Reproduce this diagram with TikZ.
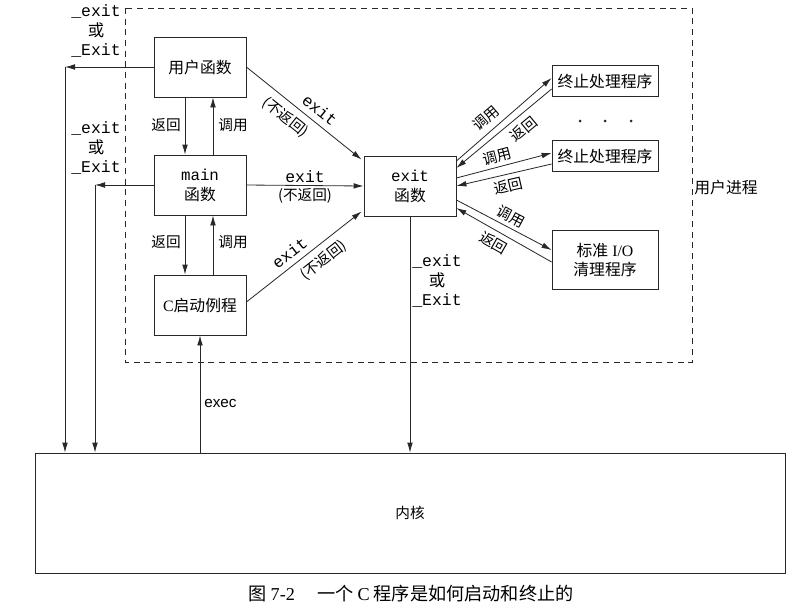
\documentclass[tikz,border=0pt]{standalone}
\usepackage{fontspec}
\setmainfont{Liberation Serif}
\setsansfont{Liberation Sans}
\setmonofont{Liberation Mono}
\newfontfamily\cjk{Noto Sans CJK SC}
\usetikzlibrary{arrows.meta,positioning,calc}
\definecolor{inkgray}{RGB}{40,40,40}

\begin{document}
\begin{tikzpicture}[
    x=0.3mm, y=0.3mm,
    line width=0.7pt, draw=inkgray,
    box/.style={draw, minimum width=27.6mm, minimum height=18mm, font=\cjk\fontsize{13.5}{17}\selectfont, align=center, inner sep=1pt},
    handler/.style={draw, minimum width=31.8mm, minimum height=9.3mm, font=\cjk\fontsize{13.5}{17}\selectfont, align=center, inner sep=1pt},
    lbl/.style={font=\cjk\fontsize{12.5}{15}\selectfont, inner sep=2pt},
    code/.style={font=\ttfamily\fontsize{14}{16.5}\selectfont, inner sep=2pt},
    region/.style={draw, dash pattern=on 1.8mm off 1.4mm},
    arrow/.style={-{Latex[length=3mm,width=1.7mm]}},
]
    \useasboundingbox (0,0) rectangle (812,-612);

    % user process
    \draw[region] (125,-8) rectangle (692,-362);
    \node[font=\cjk\fontsize{13.5}{17}\selectfont] (uproc) at (726,-187) {用户进程};

    \node[box] (user) at (200,-67) {用户函数};
    \node[box] (mainf) at (200,-185) {{\ttfamily main}\\函数};
    \node[box] (start) at (200,-305) {{\rmfamily C}启动例程};
    \node[box] (exitf) at (410,-186) {{\ttfamily exit}\\函数};

    \node[handler] (h1) at (605,-81) {终止处理程序};
    \node[handler] (h2) at (605,-156) {终止处理程序};
    \node[handler, minimum height=17.7mm] (io) at (605,-260) {标准{\rmfamily\ I/O}\\清理程序};
    \fill[inkgray] (580,-121) circle (0.45mm) (605,-121) circle (0.45mm) (631,-121) circle (0.45mm);

    \node[draw, minimum width=225mm, minimum height=36mm, font=\cjk\fontsize{12.5}{15}\selectfont] (kernel) at (410,-513) {内核};

    % call / return
    \draw[arrow] ($(user.south)+(-15,0)$) -- ($(mainf.north)+(-15,0)$);
    \draw[arrow] ($(mainf.north)+(13,0)$) -- ($(user.south)+(13,0)$);
    \node[lbl] (r1) at (166,-125) {返回};
    \node[lbl] (c1) at (233,-125) {调用};
    \draw[arrow] ($(mainf.south)+(-15,0)$) -- ($(start.north)+(-15,0)$);
    \draw[arrow] ($(start.north)+(13,0)$) -- ($(mainf.south)+(13,0)$);
    \node[lbl] (r2) at (166,-242) {返回};
    \node[lbl] (c2) at (233,-242) {调用};

    % exit
    \draw[arrow] (user.east) -- ($(exitf.north west)+(-2,-4)$)
        node[pos=0.57, sloped, above=3pt, code] {exit}
        node[pos=0.42, sloped, below=4pt, lbl] {(不返回)};
    \draw[arrow] (mainf.east) -- (exitf.west)
        node[midway, above, code] {exit}
        node[midway, below, lbl] {(不返回)};
    \draw[arrow] ($(start.east)+(0,3)$) -- ($(exitf.south west)+(-2,5)$)
        node[pos=0.44, sloped, above=3pt, code] {exit}
        node[pos=0.59, sloped, below=4pt, lbl] {(不返回)};

    % exit handlers
    \draw[arrow] ($(exitf.east)+(0,25)$) -- ($(h1.west)+(0,3)$)
        node[pos=0.4, sloped, above=3pt, lbl] {调用};
    \draw[arrow] ($(h1.west)+(0,-8)$) -- ($(exitf.east)+(0,18)$)
        node[pos=0.38, sloped, below=3pt, lbl] {返回};
    \draw[arrow] ($(exitf.east)+(0,8)$) -- ($(h2.west)+(0,3)$)
        node[pos=0.46, sloped, above=1pt, lbl] {调用};
    \draw[arrow] ($(h2.west)+(0,-8)$) -- ($(exitf.east)+(0,0)$)
        node[pos=0.48, sloped, below=2pt, lbl] {返回};
    \draw[arrow] ($(exitf.east)+(0,-14)$) -- ($(io.west)+(0,10)$)
        node[pos=0.52, sloped, above=1pt, lbl] {调用};
    \draw[arrow] ($(io.west)+(0,-2)$) -- ($(exitf.east)+(0,-22)$)
        node[pos=0.55, sloped, below=2pt, lbl] {返回};

    % to kernel
    \coordinate (ul) at (65,-67);
    \coordinate (ml) at (95,-185);
    \draw[arrow] (user.west) -- (ul);
    \draw[arrow] (ul) -- (ul |- kernel.north);
    \draw[arrow] (mainf.west) -- (ml);
    \draw[arrow] (ml) -- (ml |- kernel.north);
    \node[code, align=center] (ex1) at (96,-31) {\_exit\\{\cjk 或}\\\_Exit};
    \node[code, align=center] (ex2) at (96,-148) {\_exit\\{\cjk 或}\\\_Exit};

    \draw[arrow] (exitf.south) -- (exitf.south |- kernel.north);
    \node[code, align=center] (ex3) at (437,-281) {\_exit\\{\cjk 或}\\\_Exit};

    \draw[arrow] (start.south |- kernel.north) -- (start.south)
        node[pos=0.42, right, font=\sffamily\fontsize{13}{15}\selectfont] {exec};

    \node[font=\cjk\fontsize{15.5}{18}\selectfont] (caption) at (411,-594) {图 {\rmfamily 7-2}\quad\ 一个 {\rmfamily C} 程序是如何启动和终止的};
\end{tikzpicture}
\end{document}
